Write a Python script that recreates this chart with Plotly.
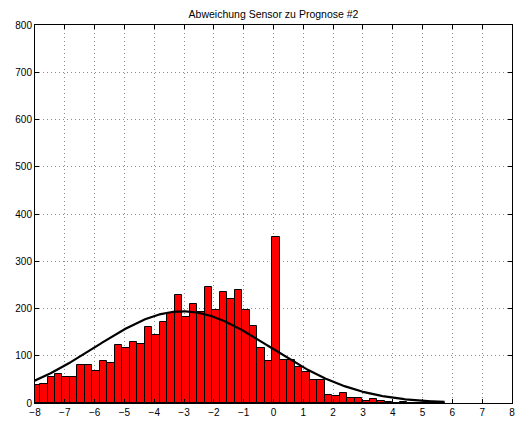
import numpy as np
import plotly.graph_objects as go

# Histogram of sensor-vs-forecast deviation (55 equal bins)
bin_start = -8.083
bin_width = 0.2513
counts = [38, 41, 55, 62, 54, 54, 80, 80, 68, 89, 85, 122,
          116, 129, 125, 161, 144, 171, 190, 228, 181, 209, 192,
          245, 196, 235, 221, 240, 197, 163, 117, 88, 351,
          92, 90, 76, 66, 49, 48, 18, 15, 21, 10, 11,
          4, 8, 4, 3, 1, 3, 1, 1, 1, 0, 1]

# Fitted normal distribution (scaled to histogram counts)
fit_mean = -3.05
fit_std = 2.95
fit_peak = 194.0

x_ticks = list(range(-8, 9))
y_ticks = list(range(0, 801, 100))

centers = bin_start + bin_width * (np.arange(len(counts)) + 0.5)
x_end = bin_start + bin_width * len(counts)

xc = np.linspace(bin_start, x_end, 400)
yc = fit_peak * np.exp(-0.5 * ((xc - fit_mean) / fit_std) ** 2)

fig = go.Figure()
fig.add_trace(go.Bar(
    x=centers, y=counts, width=bin_width,
    marker=dict(color="#ff0000", line=dict(color="black", width=1)),
    showlegend=False,
))
fig.add_trace(go.Scatter(
    x=xc, y=yc, mode="lines",
    line=dict(color="black", width=2.2),
    showlegend=False,
))

axis_common = dict(
    showline=True, linecolor="black", linewidth=1, mirror="ticks",
    ticks="inside", ticklen=4, tickcolor="black", tickwidth=1,
    showgrid=True, gridcolor="#8c8c8c", gridwidth=1, griddash="1px,3px",
    zeroline=False, tickfont=dict(size=10, color="black"),
)

fig.update_xaxes(range=[-8, 8], tickvals=x_ticks,
                 ticktext=[("\u2212" + str(-v)) if v < 0 else str(v) for v in x_ticks],
                 **axis_common)
fig.update_yaxes(range=[0, 800], tickvals=y_ticks, **axis_common)

fig.update_layout(
    width=519, height=425,
    margin=dict(l=35, r=4, t=25, b=22),
    paper_bgcolor="white", plot_bgcolor="white",
    font=dict(family="Liberation Sans, Arial, sans-serif", size=10, color="black"),
    title=dict(text="Abweichung Sensor zu Prognose #2", x=0.5, xref="paper",
               xanchor="center", y=1 - 14 / 425, yanchor="middle",
               font=dict(size=10.5)),
    bargap=0,
)

fig.write_html("out.html")
